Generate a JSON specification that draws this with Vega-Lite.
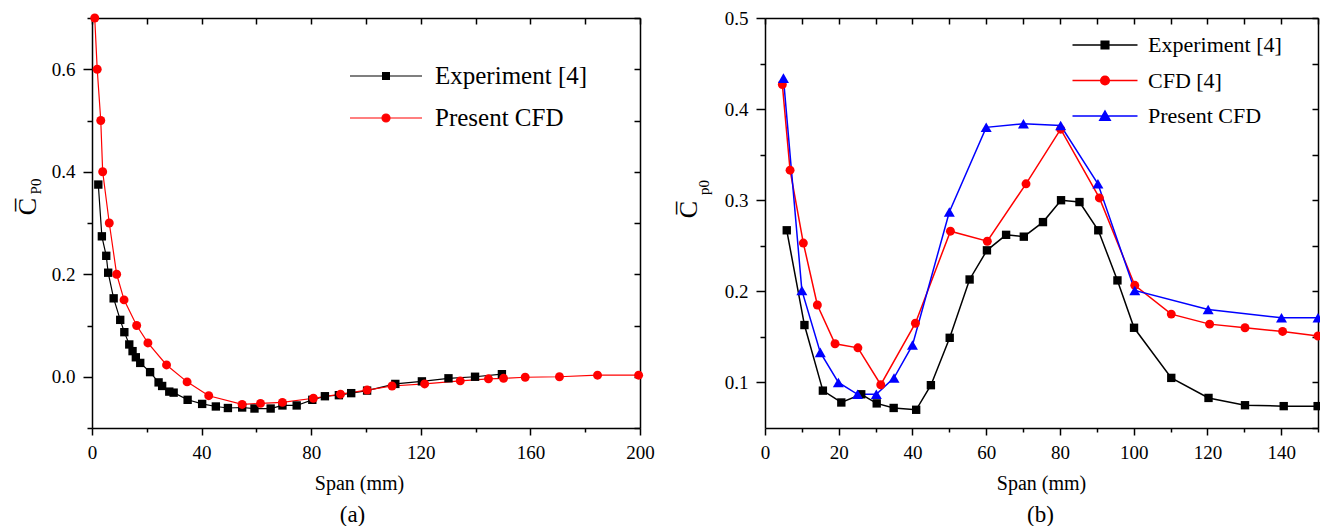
{
  "$schema": "https://vega.github.io/schema/vega-lite/v6.json",
  "padding": {"left": 14, "top": 9, "right": 0, "bottom": 0},
  "background": "white",
  "bounds": "flush",
  "spacing": 125,
  "resolve": {"scale": {"color": "independent", "x": "independent", "y": "independent"}, "legend": {"color": "independent"}},
  "config": {
    "font": "Liberation Serif",
    "view": {"stroke": null},
    "axis": {
      "grid": false,
      "labelFont": "Liberation Serif",
      "labelFontSize": 19,
      "labelColor": "#000000",
      "labelFlush": false,
      "labelOverlap": false,
      "labelPadding": 8,
      "titleFont": "Liberation Serif",
      "titleColor": "#000000",
      "titleFontWeight": "normal",
      "domainColor": "#000000",
      "domainWidth": 1.5,
      "tickColor": "#000000",
      "tickWidth": 1.5
    },
    "legend": {
      "labelFont": "Liberation Serif",
      "labelColor": "#000000",
      "labelLimit": 400
    }
  },
  "datasets": {
    "a": [
      {"series": "Experiment [4]", "x": 2.3, "y": 0.375},
      {"series": "Experiment [4]", "x": 3.6, "y": 0.274},
      {"series": "Experiment [4]", "x": 5.2, "y": 0.236},
      {"series": "Experiment [4]", "x": 5.9, "y": 0.203},
      {"series": "Experiment [4]", "x": 7.9, "y": 0.153},
      {"series": "Experiment [4]", "x": 10.3, "y": 0.111},
      {"series": "Experiment [4]", "x": 11.8, "y": 0.087},
      {"series": "Experiment [4]", "x": 13.6, "y": 0.063},
      {"series": "Experiment [4]", "x": 14.8, "y": 0.05},
      {"series": "Experiment [4]", "x": 16.0, "y": 0.038},
      {"series": "Experiment [4]", "x": 17.6, "y": 0.027},
      {"series": "Experiment [4]", "x": 21.2, "y": 0.009},
      {"series": "Experiment [4]", "x": 24.3, "y": -0.011},
      {"series": "Experiment [4]", "x": 25.6, "y": -0.018},
      {"series": "Experiment [4]", "x": 28.2, "y": -0.029},
      {"series": "Experiment [4]", "x": 29.8, "y": -0.031},
      {"series": "Experiment [4]", "x": 34.9, "y": -0.045},
      {"series": "Experiment [4]", "x": 40.2, "y": -0.053},
      {"series": "Experiment [4]", "x": 45.2, "y": -0.058},
      {"series": "Experiment [4]", "x": 49.6, "y": -0.061},
      {"series": "Experiment [4]", "x": 54.8, "y": -0.06},
      {"series": "Experiment [4]", "x": 59.3, "y": -0.062},
      {"series": "Experiment [4]", "x": 65.2, "y": -0.062},
      {"series": "Experiment [4]", "x": 69.5, "y": -0.056},
      {"series": "Experiment [4]", "x": 74.7, "y": -0.056},
      {"series": "Experiment [4]", "x": 80.4, "y": -0.045},
      {"series": "Experiment [4]", "x": 85.0, "y": -0.038},
      {"series": "Experiment [4]", "x": 90.1, "y": -0.036},
      {"series": "Experiment [4]", "x": 94.6, "y": -0.032},
      {"series": "Experiment [4]", "x": 100.4, "y": -0.027},
      {"series": "Experiment [4]", "x": 110.7, "y": -0.014},
      {"series": "Experiment [4]", "x": 120.4, "y": -0.009},
      {"series": "Experiment [4]", "x": 130.1, "y": -0.003},
      {"series": "Experiment [4]", "x": 139.8, "y": 0.0},
      {"series": "Experiment [4]", "x": 149.6, "y": 0.005},
      {"series": "Present CFD", "x": 1.0, "y": 0.7},
      {"series": "Present CFD", "x": 1.9, "y": 0.6},
      {"series": "Present CFD", "x": 3.2, "y": 0.5},
      {"series": "Present CFD", "x": 3.9, "y": 0.4},
      {"series": "Present CFD", "x": 6.3, "y": 0.3},
      {"series": "Present CFD", "x": 9.0, "y": 0.2},
      {"series": "Present CFD", "x": 11.7, "y": 0.15},
      {"series": "Present CFD", "x": 16.3, "y": 0.1},
      {"series": "Present CFD", "x": 20.4, "y": 0.066},
      {"series": "Present CFD", "x": 27.2, "y": 0.023},
      {"series": "Present CFD", "x": 34.7, "y": -0.01},
      {"series": "Present CFD", "x": 42.6, "y": -0.037},
      {"series": "Present CFD", "x": 54.8, "y": -0.054},
      {"series": "Present CFD", "x": 61.5, "y": -0.052},
      {"series": "Present CFD", "x": 69.5, "y": -0.05},
      {"series": "Present CFD", "x": 80.8, "y": -0.042},
      {"series": "Present CFD", "x": 90.7, "y": -0.034},
      {"series": "Present CFD", "x": 100.4, "y": -0.026},
      {"series": "Present CFD", "x": 109.5, "y": -0.018},
      {"series": "Present CFD", "x": 121.4, "y": -0.014},
      {"series": "Present CFD", "x": 134.4, "y": -0.008},
      {"series": "Present CFD", "x": 144.7, "y": -0.004},
      {"series": "Present CFD", "x": 150.2, "y": -0.003},
      {"series": "Present CFD", "x": 158.1, "y": -0.001},
      {"series": "Present CFD", "x": 170.6, "y": 0.0},
      {"series": "Present CFD", "x": 184.5, "y": 0.003},
      {"series": "Present CFD", "x": 199.5, "y": 0.003}
    ],
    "b": [
      {"series": "Experiment [4]", "x": 5.9, "y": 0.267},
      {"series": "Experiment [4]", "x": 10.7, "y": 0.163},
      {"series": "Experiment [4]", "x": 15.7, "y": 0.091},
      {"series": "Experiment [4]", "x": 20.7, "y": 0.078},
      {"series": "Experiment [4]", "x": 26.1, "y": 0.087},
      {"series": "Experiment [4]", "x": 30.3, "y": 0.077},
      {"series": "Experiment [4]", "x": 34.9, "y": 0.072},
      {"series": "Experiment [4]", "x": 41.0, "y": 0.070},
      {"series": "Experiment [4]", "x": 45.0, "y": 0.097},
      {"series": "Experiment [4]", "x": 50.1, "y": 0.149},
      {"series": "Experiment [4]", "x": 55.5, "y": 0.213},
      {"series": "Experiment [4]", "x": 60.2, "y": 0.245},
      {"series": "Experiment [4]", "x": 65.4, "y": 0.262},
      {"series": "Experiment [4]", "x": 70.2, "y": 0.260},
      {"series": "Experiment [4]", "x": 75.4, "y": 0.276},
      {"series": "Experiment [4]", "x": 80.3, "y": 0.300},
      {"series": "Experiment [4]", "x": 85.3, "y": 0.298},
      {"series": "Experiment [4]", "x": 90.4, "y": 0.267},
      {"series": "Experiment [4]", "x": 95.6, "y": 0.212},
      {"series": "Experiment [4]", "x": 100.1, "y": 0.160},
      {"series": "Experiment [4]", "x": 110.2, "y": 0.105},
      {"series": "Experiment [4]", "x": 120.3, "y": 0.083},
      {"series": "Experiment [4]", "x": 130.2, "y": 0.075},
      {"series": "Experiment [4]", "x": 140.7, "y": 0.074},
      {"series": "Experiment [4]", "x": 149.9, "y": 0.074},
      {"series": "CFD [4]", "x": 4.7, "y": 0.427},
      {"series": "CFD [4]", "x": 6.8, "y": 0.333},
      {"series": "CFD [4]", "x": 10.4, "y": 0.253},
      {"series": "CFD [4]", "x": 14.2, "y": 0.185},
      {"series": "CFD [4]", "x": 19.0, "y": 0.1425},
      {"series": "CFD [4]", "x": 25.2, "y": 0.138},
      {"series": "CFD [4]", "x": 31.4, "y": 0.0975},
      {"series": "CFD [4]", "x": 40.8, "y": 0.165},
      {"series": "CFD [4]", "x": 50.3, "y": 0.266},
      {"series": "CFD [4]", "x": 60.3, "y": 0.255},
      {"series": "CFD [4]", "x": 70.8, "y": 0.318},
      {"series": "CFD [4]", "x": 80.2, "y": 0.378},
      {"series": "CFD [4]", "x": 90.7, "y": 0.3025},
      {"series": "CFD [4]", "x": 100.3, "y": 0.2066},
      {"series": "CFD [4]", "x": 110.2, "y": 0.175},
      {"series": "CFD [4]", "x": 120.6, "y": 0.164},
      {"series": "CFD [4]", "x": 130.2, "y": 0.160},
      {"series": "CFD [4]", "x": 140.4, "y": 0.156},
      {"series": "CFD [4]", "x": 150.0, "y": 0.151},
      {"series": "Present CFD", "x": 5.0, "y": 0.434},
      {"series": "Present CFD", "x": 10.0, "y": 0.201},
      {"series": "Present CFD", "x": 15.0, "y": 0.133},
      {"series": "Present CFD", "x": 19.9, "y": 0.100},
      {"series": "Present CFD", "x": 25.1, "y": 0.087},
      {"series": "Present CFD", "x": 30.2, "y": 0.087},
      {"series": "Present CFD", "x": 35.0, "y": 0.105},
      {"series": "Present CFD", "x": 40.0, "y": 0.141},
      {"series": "Present CFD", "x": 50.0, "y": 0.287},
      {"series": "Present CFD", "x": 60.0, "y": 0.380},
      {"series": "Present CFD", "x": 70.1, "y": 0.384},
      {"series": "Present CFD", "x": 80.2, "y": 0.382},
      {"series": "Present CFD", "x": 90.3, "y": 0.318},
      {"series": "Present CFD", "x": 100.3, "y": 0.201},
      {"series": "Present CFD", "x": 120.2, "y": 0.180},
      {"series": "Present CFD", "x": 140.1, "y": 0.171},
      {"series": "Present CFD", "x": 150.0, "y": 0.171}
    ]
  },
  "hconcat": [
    {
      "width": 548,
      "height": 410,
      "data": {"name": "a"},
      "resolve": {"axis": {"x": "independent", "y": "independent"}},
      "layer": [
        {
          "mark": {"type": "line", "strokeWidth": 1.2},
          "encoding": {
            "x": {"field": "x", "type": "quantitative",
              "scale": {"domain": [0, 200], "nice": false, "zero": false},
              "axis": {"orient": "bottom", "values": [0, 40, 80, 120, 160, 200], "format": "d", "tickSize": 7,
                "title": "Span (mm)", "titleFontSize": 20, "titleX": 267, "titleY": 55, "titleAlign": "center", "titleBaseline": "middle"}},
            "y": {"field": "y", "type": "quantitative",
              "scale": {"domain": [-0.1, 0.7], "nice": false, "zero": false},
              "axis": {"orient": "left", "values": [0, 0.2, 0.4, 0.6], "format": ".1f", "tickSize": 9,
                "title": "C\u0305", "titleFontSize": 26, "titleAngle": 270, "titleX": -65, "titleY": 188, "titleAlign": "center", "titleBaseline": "middle"}},
            "color": {"field": "series", "type": "nominal",
              "scale": {"domain": ["Experiment [4]", "Present CFD"], "range": ["#000000", "#ff0000"]},
              "legend": {
                "orient": "none", "legendX": 281.5, "legendY": 45.5, "title": null, "padding": 0,
                "labelFontSize": 25, "labelOffset": 36.5, "rowPadding": 16,
                "encode": {
                  "symbols": {
                    "update": {
                      "shape": {"signal": "datum.value === 'Experiment [4]' ? 'M-3.6,0H3.6M-0.34,-0.34H0.34V0.34H-0.34Z' : 'M-3.6,0H3.6M-0.4,0A0.4,0.4,0,1,0,0.4,0A0.4,0.4,0,1,0,-0.4,0Z'"},
                      "fill": {"signal": "datum.value === 'Experiment [4]' ? '#000000' : '#ff0000'"},
                      "stroke": {"signal": "datum.value === 'Experiment [4]' ? '#000000' : '#ff0000'"},
                      "size": {"value": 400},
                      "strokeWidth": {"value": 1.2}
                    }
                  }
                }
              }}
          }
        },
        {
          "transform": [{"filter": "datum.series === 'Experiment [4]'"}],
          "mark": {"type": "point", "shape": "square", "filled": true, "size": 70, "opacity": 1, "color": "#000000"},
          "encoding": {
            "x": {"field": "x", "type": "quantitative",
              "axis": {"orient": "bottom", "values": [20, 60, 100, 140, 180], "labels": false, "domain": false, "tickSize": 4,
                "title": "(a)", "titleFontSize": 23, "titleX": 260, "titleY": 86, "titleAlign": "center", "titleBaseline": "middle"}},
            "y": {"field": "y", "type": "quantitative",
              "axis": {"orient": "left", "values": [-0.1, 0.1, 0.3, 0.5, 0.7], "labels": false, "domain": false, "tickSize": 5,
                "title": "P0", "titleFontSize": 15, "titleAngle": 270, "titleX": -57, "titleY": 168, "titleAlign": "center", "titleBaseline": "middle"}}
          }
        },
        {
          "transform": [{"filter": "datum.series === 'Present CFD'"}],
          "mark": {"type": "point", "shape": "circle", "filled": true, "size": 80, "opacity": 1, "color": "#ff0000"},
          "encoding": {
            "x": {"field": "x", "type": "quantitative",
              "axis": {"orient": "top", "values": [0, 20, 40, 60, 80, 100, 120, 140, 160, 180, 200], "labels": false, "tickSize": -6, "title": null}},
            "y": {"field": "y", "type": "quantitative",
              "axis": {"orient": "right", "values": [-0.1, 0, 0.1, 0.2, 0.3, 0.4, 0.5, 0.6, 0.7], "labels": false, "tickSize": -6, "title": null}}
          }
        }
      ]
    },
    {
      "width": 553,
      "height": 410,
      "data": {"name": "b"},
      "resolve": {"axis": {"x": "independent", "y": "independent"}},
      "layer": [
        {
          "mark": {"type": "line", "strokeWidth": 1.5},
          "encoding": {
            "x": {"field": "x", "type": "quantitative",
              "scale": {"domain": [0, 150], "nice": false, "zero": false},
              "axis": {"orient": "bottom", "values": [0, 20, 40, 60, 80, 100, 120, 140], "format": "d", "tickSize": 7,
                "title": "Span (mm)", "titleFontSize": 20, "titleX": 276, "titleY": 55, "titleAlign": "center", "titleBaseline": "middle"}},
            "y": {"field": "y", "type": "quantitative",
              "scale": {"domain": [0.05, 0.5], "nice": false, "zero": false},
              "axis": {"orient": "left", "values": [0.1, 0.2, 0.3, 0.4, 0.5], "format": ".1f", "tickSize": 9,
                "title": "C\u0305", "titleFontSize": 26, "titleAngle": 270, "titleX": -77, "titleY": 191, "titleAlign": "center", "titleBaseline": "middle"}},
            "color": {"field": "series", "type": "nominal",
              "scale": {"domain": ["Experiment [4]", "CFD [4]", "Present CFD"], "range": ["#000000", "#ff0000", "#0000ff"]},
              "legend": {
                "orient": "none", "legendX": 329, "legendY": 16, "title": null, "padding": 0,
                "labelFontSize": 22, "labelOffset": 32, "rowPadding": 13.5,
                "encode": {
                  "symbols": {
                    "update": {
                      "shape": {"signal": "datum.value === 'Experiment [4]' ? 'M-3.25,0H3.25M-0.38,-0.38H0.38V0.38H-0.38Z' : datum.value === 'CFD [4]' ? 'M-3.25,0H3.25M-0.43,0A0.43,0.43,0,1,0,0.43,0A0.43,0.43,0,1,0,-0.43,0Z' : 'M-3.25,0H3.25M0,-0.5L0.52,0.42L-0.52,0.42Z'"},
                      "fill": {"signal": "datum.value === 'Experiment [4]' ? '#000000' : datum.value === 'CFD [4]' ? '#ff0000' : '#0000ff'"},
                      "stroke": {"signal": "datum.value === 'Experiment [4]' ? '#000000' : datum.value === 'CFD [4]' ? '#ff0000' : '#0000ff'"},
                      "size": {"value": 400},
                      "strokeWidth": {"value": 1.5}
                    }
                  }
                }
              }}
          }
        },
        {
          "transform": [{"filter": "datum.series === 'Experiment [4]'"}],
          "mark": {"type": "point", "shape": "square", "filled": true, "size": 70, "opacity": 1, "color": "#000000"},
          "encoding": {
            "x": {"field": "x", "type": "quantitative",
              "axis": {"orient": "bottom", "values": [10, 30, 50, 70, 90, 110, 130, 150], "labels": false, "domain": false, "tickSize": 4,
                "title": "(b)", "titleFontSize": 23, "titleX": 275, "titleY": 86, "titleAlign": "center", "titleBaseline": "middle"}},
            "y": {"field": "y", "type": "quantitative",
              "axis": {"orient": "left", "values": [0.15, 0.25, 0.35, 0.45], "labels": false, "domain": false, "tickSize": 5,
                "title": "p0", "titleFontSize": 15, "titleAngle": 270, "titleX": -62, "titleY": 169, "titleAlign": "center", "titleBaseline": "middle"}}
          }
        },
        {
          "transform": [{"filter": "datum.series === 'CFD [4]'"}],
          "mark": {"type": "point", "shape": "circle", "filled": true, "size": 80, "opacity": 1, "color": "#ff0000"},
          "encoding": {
            "x": {"field": "x", "type": "quantitative",
              "axis": {"orient": "top", "values": [0, 10, 20, 30, 40, 50, 60, 70, 80, 90, 100, 110, 120, 130, 140, 150], "labels": false, "tickSize": -6, "title": null}},
            "y": {"field": "y", "type": "quantitative",
              "axis": {"orient": "right", "values": [0.05, 0.1, 0.15, 0.2, 0.25, 0.3, 0.35, 0.4, 0.45, 0.5], "labels": false, "tickSize": -6, "title": null}}
          }
        },
        {
          "transform": [{"filter": "datum.series === 'Present CFD'"}],
          "mark": {"type": "point", "shape": "triangle-up", "filled": true, "size": 121, "opacity": 1, "color": "#0000ff"},
          "encoding": {
            "x": {"field": "x", "type": "quantitative", "axis": null},
            "y": {"field": "y", "type": "quantitative", "axis": null}
          }
        }
      ]
    }
  ]
}
